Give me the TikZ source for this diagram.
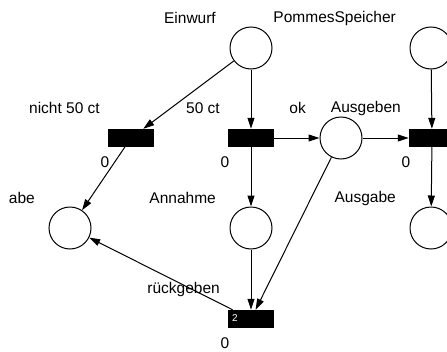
\documentclass[tikz,border=0pt]{standalone}
\usepackage{fontspec}
\setmainfont{Liberation Sans}
\usetikzlibrary{positioning,calc,arrows.meta}

\tikzset{
  place/.style={draw,circle,line width=1pt,minimum size=42pt,inner sep=0pt},
  trans/.style={fill=black,rectangle,minimum width=46pt,minimum height=18pt,inner sep=0pt},
  lbl/.style={anchor=east,inner sep=0pt,font=\fontsize{15.5}{18}\selectfont},
  zero/.style={inner sep=0pt,font=\fontsize{15.5}{18}\selectfont},
  arc/.style={line width=1pt,-{Triangle[length=11pt,width=7pt]}}
}

\begin{document}
\begin{tikzpicture}[x=1pt,y=-1pt]
        \clip (0,0) rectangle (447,351);
        % places
        \node[place] (einwurf) at (251,48) {};
        \node[place] (speicher) at (431,48) {};
        \node[place] (ok) at (341,138) {};
        \node[place] (abe) at (70,228) {};
        \node[place] (annahme) at (251,228) {};
        \node[place] (ausgabe) at (431,228) {};
        % transitions
        \node[trans] (n50) at (131,138) {};
        \node[trans] (t50) at (251,138) {};
        \node[trans] (tout) at (432,138) {};
        \node[trans] (rg) at (251,319) {};
        \node[inner sep=0pt,text=white,font=\fontsize{10}{11}\selectfont] (rg-w) at ($(rg)+(-16,-1)$) {2};
        % names
        \foreach \n/\t in {einwurf/Einwurf,speicher/PommesSpeicher,ok/ok,abe/abe,annahme/Annahme,ausgabe/Ausgabe} {
             \node[lbl] (\n-l) at ($(\n)+(-35,-30)$) {\t};
        }
        \foreach \n/\t in {n50/nicht 50 ct,t50/50 ct,tout/Ausgeben,rg/rückgeben} {
             \node[lbl] (\n-l) at ($(\n)+(-31,-30)$) {\t};
             \node[zero] (\n-z) at ($(\n)+(-26,24)$) {0};
        }
        % arcs
        \draw[arc] (einwurf) -- (n50);
        \draw[arc] (einwurf) -- (t50);
        \draw[arc] (n50) -- (abe);
        \draw[arc] (t50) -- (ok);
        \draw[arc] (t50) -- (annahme);
        \draw[arc] (ok) -- (tout);
        \draw[arc] (speicher) -- (tout);
        \draw[arc] (tout) -- (ausgabe);
        \draw[arc] (annahme) -- (rg);
        \draw[arc] (ok) -- (rg);
        \draw[arc] (rg) -- (abe);
    \end{tikzpicture}
\end{document}
